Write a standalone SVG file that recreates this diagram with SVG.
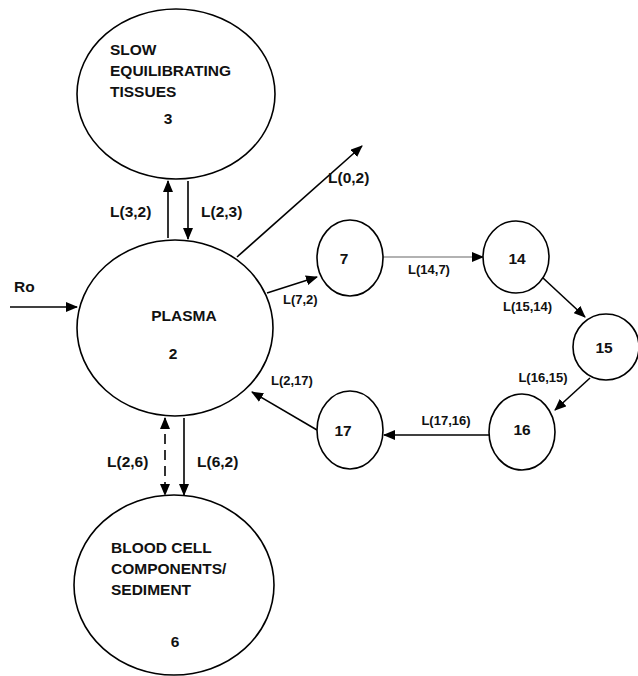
<svg xmlns="http://www.w3.org/2000/svg" width="638" height="676" viewBox="0 0 638 676">
<style>
.n{fill:#fff;stroke:#000;stroke-width:1.6}
.t{font-family:"Liberation Sans",Arial,sans-serif;font-weight:bold;font-size:15.5px;fill:#111}
.s{font-family:"Liberation Sans",Arial,sans-serif;font-weight:bold;font-size:13px;fill:#111}
.c{stroke:#000;stroke-width:1.6;fill:none}
</style>
<defs>
<marker id="a" markerWidth="12" markerHeight="10" refX="11" refY="5" orient="auto" markerUnits="userSpaceOnUse">
<path d="M0,0 L12,5 L0,10 Z" fill="#000"/>
</marker>
<marker id="as" markerWidth="12" markerHeight="10" refX="1" refY="5" orient="auto" markerUnits="userSpaceOnUse">
<path d="M12,0 L0,5 L12,10 Z" fill="#000"/>
</marker>
</defs>
<g id="connectors">
<line class="c" x1="168" y1="238" x2="168" y2="181" marker-end="url(#a)"/>
<line class="c" x1="188" y1="181" x2="188" y2="239" marker-end="url(#a)"/>
<line class="c" x1="10" y1="307" x2="77" y2="307" marker-end="url(#a)"/>
<line class="c" x1="237" y1="257" x2="362" y2="146" marker-end="url(#a)"/>
<line class="c" x1="267" y1="293" x2="317" y2="277" marker-end="url(#a)"/>
<line x1="383" y1="257" x2="483" y2="257" stroke="#666" stroke-width="1.2" marker-end="url(#a)"/>
<line class="c" x1="543" y1="278" x2="585" y2="317" marker-end="url(#a)"/>
<line class="c" x1="590" y1="378" x2="555" y2="410" marker-end="url(#a)"/>
<line class="c" x1="489" y1="435" x2="384" y2="435" marker-end="url(#a)"/>
<line class="c" x1="317" y1="430" x2="252" y2="392" marker-end="url(#a)"/>
<line class="c" x1="165" y1="418" x2="165" y2="495" stroke-dasharray="10,6" marker-start="url(#as)" marker-end="url(#a)"/>
<line class="c" x1="184" y1="418" x2="184" y2="495" marker-end="url(#a)"/>
</g>
<g id="node3">
<ellipse class="n" cx="176" cy="94" rx="99" ry="85"/>
<text class="t" x="110" y="55">SLOW</text>
<text class="t" x="110" y="76">EQUILIBRATING</text>
<text class="t" x="110" y="97">TISSUES</text>
<text class="t" x="168" y="124" text-anchor="middle">3</text>
</g>
<g id="node2">
<ellipse class="n" cx="175" cy="328" rx="98" ry="88"/>
<text class="t" x="184" y="321" text-anchor="middle">PLASMA</text>
<text class="t" x="173" y="359" text-anchor="middle">2</text>
</g>
<g id="node6">
<ellipse class="n" cx="174" cy="585" rx="100" ry="90"/>
<text class="t" x="111" y="553">BLOOD CELL</text>
<text class="t" x="111" y="574">COMPONENTS/</text>
<text class="t" x="111" y="595">SEDIMENT</text>
<text class="t" x="175" y="647" text-anchor="middle" font-size="14">6</text>
</g>
<g id="node7">
<ellipse class="n" cx="350" cy="258" rx="33" ry="38"/>
<text class="t" x="344" y="264" text-anchor="middle" font-size="18">7</text>
</g>
<g id="node14">
<ellipse class="n" cx="516" cy="257" rx="33" ry="36"/>
<text class="t" x="517" y="264" text-anchor="middle" font-size="18">14</text>
</g>
<g id="node15">
<ellipse class="n" cx="606" cy="347" rx="33" ry="33"/>
<text class="t" x="604" y="353" text-anchor="middle" font-size="18">15</text>
</g>
<g id="node16">
<ellipse class="n" cx="522" cy="432" rx="33" ry="38"/>
<text class="t" x="522" y="435" text-anchor="middle" font-size="18">16</text>
</g>
<g id="node17">
<ellipse class="n" cx="350" cy="430" rx="33" ry="39"/>
<text class="t" x="343" y="436" text-anchor="middle" font-size="18">17</text>
</g>
<g id="labels">
<text class="t" x="14" y="292" font-size="17.5">Ro</text>
<text class="t" x="110" y="217">L(3,2)</text>
<text class="t" x="201" y="217">L(2,3)</text>
<text class="t" x="328" y="183">L(0,2)</text>
<text class="s" x="283" y="304">L(7,2)</text>
<text class="s" x="429" y="274" text-anchor="middle">L(14,7)</text>
<text class="s" x="503" y="311">L(15,14)</text>
<text class="s" x="543" y="382" text-anchor="middle">L(16,15)</text>
<text class="s" x="446" y="425" text-anchor="middle">L(17,16)</text>
<text class="s" x="271" y="385">L(2,17)</text>
<text class="t" x="107" y="467">L(2,6)</text>
<text class="t" x="197" y="467">L(6,2)</text>
</g>
</svg>
